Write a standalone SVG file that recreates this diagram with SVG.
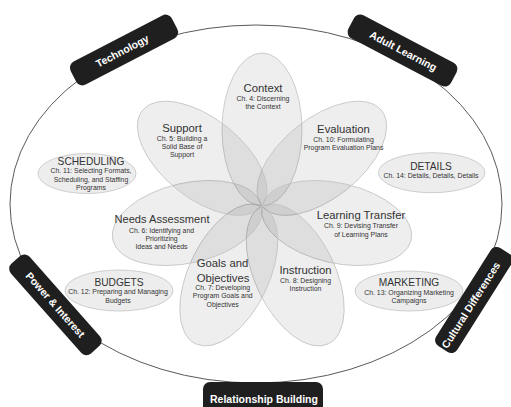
<svg xmlns="http://www.w3.org/2000/svg" width="511" height="407" viewBox="0 0 511 407">
<style>
.petal{fill:#000;fill-opacity:.065;stroke:#c2c2c2;stroke-width:.8}
.side{fill:#ededed;stroke:#c4c4c4;stroke-width:.8}
.ring{fill:#fff;stroke:#5a5a5a;stroke-width:1}
.tab{fill:#1f1f1f}
.t{font-family:"Liberation Sans",Arial,sans-serif;fill:#333;text-anchor:middle}
.ti{font-size:11.3px}
.cap{font-size:10.2px}
.sub{font-size:6.9px}
.tt{font-family:"Liberation Sans",Arial,sans-serif;font-weight:bold;font-size:10.5px;fill:#fff;text-anchor:middle}
</style>
<rect width="511" height="407" fill="#fff"/>
<g id="connectors">
<ellipse class="ring" cx="256" cy="204" rx="246" ry="179"/>
</g>
<g id="petals">
<g id="context"><ellipse class="petal" cx="262" cy="129.5" rx="76.5" ry="40" transform="rotate(-90 262 129.5)"/></g>
<g id="evaluation"><ellipse class="petal" cx="321.8" cy="158.3" rx="76.5" ry="40" transform="rotate(-38.57 321.8 158.3)"/></g>
<g id="learning-transfer"><ellipse class="petal" cx="336.6" cy="223" rx="76.5" ry="40" transform="rotate(12.86 336.6 223)"/></g>
<g id="instruction"><ellipse class="petal" cx="295.2" cy="274.9" rx="76.5" ry="40" transform="rotate(64.29 295.2 274.9)"/></g>
<g id="goals"><ellipse class="petal" cx="228.8" cy="274.9" rx="76.5" ry="40" transform="rotate(115.71 228.8 274.9)"/></g>
<g id="needs"><ellipse class="petal" cx="187.4" cy="223" rx="76.5" ry="40" transform="rotate(167.14 187.4 223)"/></g>
<g id="support"><ellipse class="petal" cx="202.2" cy="158.3" rx="76.5" ry="40" transform="rotate(218.57 202.2 158.3)"/></g>
</g>
<g id="petal-labels" class="t">
<text class="ti" x="263" y="91.5">Context</text>
<text class="sub" x="263" y="100.5">Ch. 4: Discerning</text>
<text class="sub" x="263" y="108.5">the Context</text>
<text class="ti" x="182" y="132">Support</text>
<text class="sub" x="182" y="140.7">Ch. 5: Building a</text>
<text class="sub" x="182" y="149">Solid Base of</text>
<text class="sub" x="182" y="157">Support</text>
<text class="ti" x="343.5" y="133.3">Evaluation</text>
<text class="sub" x="343.5" y="142">Ch. 10: Formulating</text>
<text class="sub" x="343.5" y="150.3">Program Evaluation Plans</text>
<text class="ti" x="361" y="219.3">Learning Transfer</text>
<text class="sub" x="361" y="228.3">Ch. 9: Devising Transfer</text>
<text class="sub" x="361" y="236.7">of Learning Plans</text>
<text class="ti" x="162" y="223.3" textLength="95" lengthAdjust="spacingAndGlyphs">Needs Assessment</text>
<text class="sub" x="161.5" y="232.5">Ch. 6: Identifying and</text>
<text class="sub" x="161.5" y="241">Prioritizing</text>
<text class="sub" x="161.5" y="249.3">Ideas and Needs</text>
<text class="ti" x="305.5" y="274">Instruction</text>
<text class="sub" x="305.5" y="282.7">Ch. 8: Designing</text>
<text class="sub" x="305.5" y="290.7">Instruction</text>
<text class="ti" x="222.5" y="267.3">Goals and</text>
<text class="ti" x="223" y="281.7">Objectives</text>
<text class="sub" x="222.7" y="290">Ch. 7: Developing</text>
<text class="sub" x="222.7" y="298.3">Program Goals and</text>
<text class="sub" x="222.7" y="306.7">Objectives</text>
</g>
<g id="scheduling">
<ellipse class="side" cx="87" cy="173.5" rx="49" ry="20"/>
<text class="t cap" x="91" y="165">SCHEDULING</text>
<text class="t sub" x="91" y="173.3">Ch. 11: Selecting Formats,</text>
<text class="t sub" x="91" y="181.7">Scheduling, and Staffing</text>
<text class="t sub" x="91" y="190">Programs</text>
</g>
<g id="details">
<ellipse class="side" cx="431.7" cy="172.7" rx="53.3" ry="20"/>
<text class="t cap" x="431" y="170">DETAILS</text>
<text class="t sub" x="431" y="178">Ch. 14: Details, Details, Details</text>
</g>
<g id="budgets">
<ellipse class="side" cx="119" cy="290.5" rx="54" ry="20.5"/>
<text class="t cap" x="119" y="286">BUDGETS</text>
<text class="t sub" x="118" y="294.3">Ch. 12: Preparing and Managing</text>
<text class="t sub" x="118" y="302.7">Budgets</text>
</g>
<g id="marketing">
<ellipse class="side" cx="409" cy="291" rx="54" ry="20"/>
<text class="t cap" x="409" y="286">MARKETING</text>
<text class="t sub" x="409" y="295">Ch. 13: Organizing Marketing</text>
<text class="t sub" x="409" y="303.3">Campaigns</text>
</g>
<g id="technology" transform="translate(124 50) rotate(-27.5)">
<rect class="tab" x="-57" y="-13" width="114" height="26" rx="7"/>
<text class="tt" x="-2" y="3.8">Technology</text>
</g>
<g id="adult-learning" transform="translate(402.5 50.5) rotate(27.7)">
<rect class="tab" x="-58" y="-13" width="116" height="26" rx="7"/>
<text class="tt" x="1" y="3.8">Adult Learning</text>
</g>
<g id="power-interest" transform="translate(55.4 304.8) rotate(48.5)">
<rect class="tab" x="-60" y="-12.5" width="120" height="25" rx="7"/>
<text class="tt" x="0" y="3.8">Power &amp; Interest</text>
</g>
<g id="cultural-differences" transform="translate(474 300) rotate(-57.7)">
<rect class="tab" x="-58" y="-12.5" width="116" height="25" rx="7"/>
<text class="tt" x="-6" y="3.8">Cultural Differences</text>
</g>
<g id="relationship-building">
<rect class="tab" x="203" y="382" width="120" height="34" rx="7"/>
<text class="tt" x="264" y="403">Relationship Building</text>
</g>
</svg>
